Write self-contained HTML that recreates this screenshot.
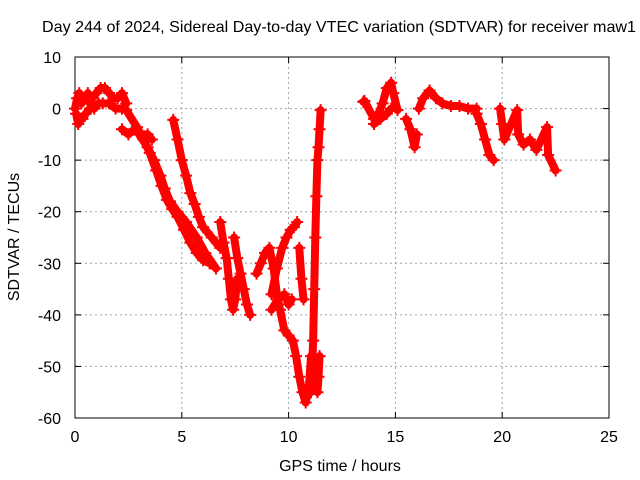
<!DOCTYPE html>
<html><head><meta charset="utf-8"><style>
body{margin:0;background:#fff}
svg{display:block;font-family:"Liberation Sans",sans-serif}
</style></head><body>
<svg id="chart" width="640" height="480">
<text x="339" y="32" font-size="16" text-anchor="middle" textLength="594" lengthAdjust="spacingAndGlyphs">Day 244 of 2024, Sidereal Day-to-day VTEC variation (SDTVAR) for receiver maw1</text>
<text x="340" y="471" font-size="16" text-anchor="middle">GPS time / hours</text>
<text transform="translate(19,237) rotate(-90)" font-size="16" text-anchor="middle">SDTVAR / TECUs</text>
<g id="grid"></g><g id="axes"></g><g id="marks"></g>
</svg>
<script>
const xTicks=[0,5,10,15,20,25];
const yTicks=[10,0,-10,-20,-30,-40,-50,-60];
// tracks: times (hours) and values (TECU)
const t1=[0,0.1,0.2,0.3,0.4,0.5,0.6,0.7,0.8,1.0,1.2,1.4,1.6,1.8,2.0,2.2,2.4];
const v1=[0,2,3,1,2,2,3,1,2,3,4,4,3,2,2,3,1];
const t2=[0.05,0.15,0.25,0.35,0.5,0.7,0.9,1.1,1.3,1.6,1.9,2.2];
const v2=[-1,-3,-2,-2,-1,0,0,1,1,1,0,0];
const t3=[2.2,2.5,2.8,3.1,3.4,3.6];
const v3=[-4,-5,-4,-5,-5,-6];
const t4=[2.4,2.9,3.2,3.5,3.8,4.05,4.3,4.55,4.8,5.1,5.4,5.7,6.0,6.3];
const v4=[-0.3,-3.6,-6,-8.6,-12,-15,-17.7,-19.5,-21,-23.5,-26,-28,-29.4,-30];
const t5=[3.0,3.4,3.7,4.0,4.2,4.45,4.8,5.2,5.7,6.1,6.6];
const v5=[-5,-7.5,-10,-13,-15.5,-18,-20,-22,-25,-28,-31];
const t6=[4.6,4.8,5.0,5.2,5.4,5.6,5.8,6.0,6.4,6.8];
const v6=[-2.2,-6,-10,-13,-16.4,-18.5,-21,-23,-25,-27];
const t7=[6.8,6.95,7.1,7.2,7.3,7.4,7.5,7.6];
const v7=[-22,-26,-29,-33,-37,-39,-37,-33];
const t8=[7.45,7.6,7.75,7.9,8.05,8.2];
const v8=[-25,-29,-32,-35,-38,-40];
const t9=[8.5,8.7,8.9,9.1,9.3,9.45,9.6,9.8,10.0,10.2,10.35,10.5,10.65,10.8,10.95,11.05];
const v9=[-32,-30,-28,-27,-31,-36,-39,-43,-44,-45,-48,-52,-55,-57,-54,-48];
const t10=[9.2,9.45,9.7,9.9,10.1,10.25,10.4];
const v10=[-36,-31,-27,-25,-23.5,-23,-22];
const t11=[9.2,9.5,9.8,10.0,10.15];
const v11=[-39,-37,-36,-38,-37];
const t12=[10.5,10.6,10.7];
const v12=[-27,-33,-37];
const t13=[11.05,11.15,11.2,11.25,11.3,11.35,11.4,11.45,11.5];
const v13=[-55,-45,-35,-25,-17,-10,-7.5,-4,-0.3];
const t14=[11.35,11.4,11.45];
const v14=[-55,-52,-48];
const t15=[13.5,13.55,14.0,14.2,14.4,14.6,14.8,14.9,15.1];
const v15=[1.3,1.5,-2,-1,1,4,5,3,-0.3];
const t16=[14.0,14.3,14.6,14.8];
const v16=[-3,-2,-1,0];
const t17=[15.5,15.7,15.9,16.0];
const v17=[-2,-4,-7.5,-5];
const t18=[16.1,16.3,16.6,16.9,17.2,17.6,18.0,18.4,18.8];
const v18=[0,2,3.5,2,1,0.5,0.5,0,0];
const t19=[18.8,19.0,19.2,19.4,19.6];
const v19=[-1,-3,-6,-9,-10];
const t20=[19.9,20.0,20.1,20.7,20.75,21.0,21.3,21.6,22.1,22.15,22.5];
const v20=[0,-3,-6,-0.3,-5,-7,-6,-8,-3.6,-9,-12];
const tracks=[[t1,v1],[t2,v2],[t3,v3],[t4,v4],[t5,v5],[t6,v6],[t7,v7],[t8,v8],[t9,v9],[t10,v10],[t11,v11],[t12,v12],[t13,v13],[t14,v14],[t15,v15],[t16,v16],[t17,v17],[t18,v18],[t19,v19],[t20,v20]];
const X0=75,X1=609,Y0=418,Y1=57;
const sx=t=>X0+(t-0)/25*(X1-X0);
const sy=v=>Y0-(v+60)/70*(Y0-Y1);
const NS="http://www.w3.org/2000/svg";
function mk(tag,attrs,parent){const e=document.createElementNS(NS,tag);for(const k in attrs)e.setAttribute(k,attrs[k]);parent.appendChild(e);return e;}
const grid=document.getElementById('grid'),axes=document.getElementById('axes'),marks=document.getElementById('marks');
xTicks.forEach(t=>{const x=sx(t);
 if(t>0&&t<25){const g=mk('line',{x1:x,x2:x,y1:Y1,y2:Y0,stroke:'#a0a0a0','stroke-dasharray':'2,3'},grid);
 
 }
 mk('line',{x1:x,x2:x,y1:Y0,y2:Y0-6,stroke:'#000'},axes);
 mk('line',{x1:x,x2:x,y1:Y1,y2:Y1+6,stroke:'#000'},axes);
 const l=mk('text',{x:x,y:Y0+24,'font-size':16,'text-anchor':'middle'},axes);l.textContent=t;
 
 });
yTicks.forEach(v=>{const y=sy(v);
 if(v>-60&&v<10){const g=mk('line',{x1:X0,x2:X1,y1:y,y2:y,stroke:'#a0a0a0','stroke-dasharray':'2,3'},grid);
 
 }
 mk('line',{x1:X0,x2:X0+6,y1:y,y2:y,stroke:'#000'},axes);
 mk('line',{x1:X1,x2:X1-6,y1:y,y2:y,stroke:'#000'},axes);
 const l=mk('text',{x:X0-14,y:y+6,'font-size':16,'text-anchor':'end'},axes);l.textContent=v;
 
 });
const fr=mk('rect',{x:X0,y:Y1,width:X1-X0,height:Y0-Y1,fill:'none',stroke:'#000'},axes);


tracks.forEach(([ts,vs])=>{
 const pl=mk('polyline',{points:ts.map((t,i)=>sx(t)+','+sy(vs[i])).join(' '),fill:'none',stroke:'#f00','stroke-width':8,'stroke-linejoin':'round','stroke-linecap':'round'},marks);
 
 
 ts.forEach((t,i)=>{const x=sx(t),y=sy(vs[i]);
  const p=mk('path',{d:`M${x-6},${y}h12M${x},${y-6}v12`,stroke:'#f00','stroke-width':2},marks);
  
  });
});
</script>
</body></html>
